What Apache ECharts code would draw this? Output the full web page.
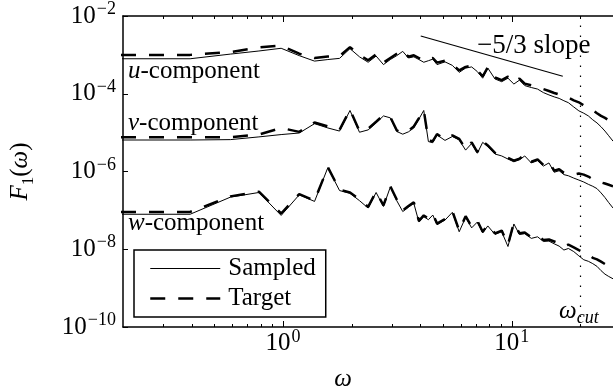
<!DOCTYPE html>
<html><head><meta charset="utf-8">
<script src="https://cdn.jsdelivr.net/npm/echarts@6/dist/echarts.min.js"></script>
<style>html,body{margin:0;padding:0;background:#fff}#c{width:613px;height:392px}</style>
</head><body><div id="c"></div><script>
// angular frequency samples (omega)
const omega = [0.196,0.393,0.589,0.785,0.982,1.178,1.374,1.571,1.767,1.963,2.160,2.356,2.553,2.749,2.945,3.142,3.338,3.534,3.731,3.927,4.123,4.320,4.516,4.712,
  5.105,5.498,5.890,6.283,6.676,7.069,7.461,7.854,
  8.443,9.032,9.621,10.21,10.80,11.39,
  12.17,12.96,13.74,14.53,15.32,16.10,16.89,17.67,
  18.65,19.63,20.62,21.60,22.58,23.56,24.54,25.53,26.51,27.69];
// log10 F1(omega) values
const uSampled = [-3.10,-3.10,-2.98,-2.90,-2.83,-3.02,-3.16,-3.12,-3.09,-2.84,-3.05,-3.19,-3.03,-3.25,-3.12,-3.02,-2.91,-3.08,-3.05,-3.12,-3.19,-3.15,-3.11,-3.25,
  -3.18,-3.27,-3.45,-3.34,-3.31,-3.43,-3.60,-3.34,
  -3.62,-3.69,-3.60,-3.75,-3.65,-3.79,
  -3.84,-3.88,-3.97,-4.03,-4.08,-4.12,-4.18,-4.23,
  -4.34,-4.44,-4.50,-4.57,-4.67,-4.75,-4.85,-4.96,-5.08,-5.22];
const uTarget = [-3.00,-3.00,-2.93,-2.81,-2.76,-2.97,-3.08,-3.04,-3.03,-2.80,-3.00,-3.14,-2.99,-3.20,-3.08,-2.97,-2.88,-3.05,-3.01,-3.08,-3.15,-3.11,-3.08,-3.20,
  -3.15,-3.24,-3.40,-3.31,-3.28,-3.40,-3.55,-3.32,
  -3.58,-3.65,-3.56,-3.70,-3.61,-3.74,
  -3.78,-3.82,-3.88,-3.93,-3.98,-4.02,-4.06,-4.10,
  -4.17,-4.22,-4.30,-4.36,-4.42,-4.50,-4.57,-4.62,-4.68,-4.74];
const vSampled = [-5.19,-5.19,-5.18,-5.11,-5.05,-5.01,-4.77,-4.88,-4.96,-4.43,-4.99,-4.93,-4.75,-4.57,-4.62,-4.97,-5.04,-4.98,-4.88,-4.65,-4.43,-5.23,-5.26,-5.06,
  -5.20,-5.10,-5.19,-5.45,-5.28,-5.53,-5.25,-5.36,
  -5.55,-5.60,-5.68,-5.75,-5.70,-5.60,
  -5.78,-5.72,-5.86,-5.78,-6.02,-5.98,-6.08,-6.11,
  -6.17,-6.22,-6.27,-6.33,-6.38,-6.44,-6.55,-6.67,-6.80,-6.94];
const vTarget = [-5.12,-5.12,-5.12,-5.05,-4.88,-4.98,-4.74,-4.84,-4.93,-4.41,-4.96,-4.90,-4.72,-4.55,-4.60,-4.94,-5.01,-4.95,-4.84,-4.63,-4.42,-5.20,-5.22,-5.04,
  -5.17,-5.07,-5.16,-5.42,-5.25,-5.50,-5.22,-5.33,
  -5.52,-5.57,-5.65,-5.72,-5.67,-5.57,
  -5.75,-5.69,-5.83,-5.75,-5.98,-5.94,-6.03,-6.05,
  -6.08,-6.05,-6.08,-6.13,-6.20,-6.22,-6.28,-6.31,-6.34,-6.38];
const wSampled = [-7.10,-7.10,-6.66,-6.54,-7.13,-6.60,-6.77,-5.90,-6.49,-6.56,-6.75,-6.94,-6.54,-6.90,-6.40,-6.75,-7.03,-6.92,-6.82,-7.30,-7.16,-7.24,-7.12,-7.37,
  -7.25,-7.05,-7.55,-7.18,-7.45,-7.30,-7.58,-7.40,
  -7.62,-7.55,-7.93,-7.35,-7.62,-7.60,
  -7.72,-7.68,-7.80,-7.79,-7.86,-7.92,-8.02,-7.98,
  -8.06,-8.17,-8.27,-8.31,-8.37,-8.44,-8.55,-8.64,-8.70,-8.76];
const wTarget = [-7.04,-7.04,-6.64,-6.52,-7.08,-6.58,-6.75,-5.89,-6.47,-6.54,-6.72,-6.91,-6.52,-6.87,-6.38,-6.72,-7.00,-6.89,-6.79,-7.27,-7.13,-7.21,-7.09,-7.34,
  -7.22,-7.02,-7.52,-7.15,-7.42,-7.27,-7.55,-7.37,
  -7.59,-7.52,-7.88,-7.32,-7.59,-7.57,
  -7.69,-7.65,-7.76,-7.75,-7.80,-7.85,-7.93,-7.88,
  -7.95,-8.02,-8.08,-8.13,-8.22,-8.26,-8.32,-8.38,-8.41,-8.44];
// -5/3 reference slope
const slopeOmega = [4.0, 16.7];
const slopeLog10F = [-2.515, -3.55];
const omegaCut = 20;
// axis ranges and ticks
const xMinOmega = 0.2, xMaxOmega = 30;
const xMajorTicks = [1, 10];
const xMinorTicks = [0.3,0.4,0.5,0.6,0.7,0.8,0.9,2,3,4,5,6,7,8,9,20];
const yTickExponents = [-10,-8,-6,-4,-2];

const FONT = 'Liberation Serif';
const L = Math.log10;
const toPts = (arr) => omega.map((w, i) => [L(w), arr[i]]);

function pow10(v) {
  const e = Math.round(v);
  return '{b|10}{s|' + (e < 0 ? '\u2212' : '') + Math.abs(e) + '}';
}
const labRich = {
  b: {fontFamily: FONT, fontSize: 25, color: '#000', verticalAlign: 'bottom', lineHeight: 25},
  s: {fontFamily: FONT, fontSize: 18, color: '#000', verticalAlign: 'bottom', lineHeight: 18, padding: [0, 0, 10, 1]}
};

const xBase = {type: 'value', min: L(xMinOmega), max: L(xMaxOmega), gridIndex: 0, splitLine: {show: false}, minorTick: {show: false}};
const xAxes = [
  Object.assign({}, xBase, {position: 'bottom',
    axisLine: {show: true, onZero: false, lineStyle: {color: '#000', width: 1.5}},
    axisTick: {show: true, inside: true, length: 6, customValues: xMajorTicks.map(L), lineStyle: {color: '#000', width: 1}},
    axisLabel: {show: true, customValues: xMajorTicks.map(L), formatter: pow10, rich: labRich, margin: 4},
    name: '\u03c9', nameLocation: 'middle', nameGap: 40,
    nameTextStyle: {fontFamily: FONT, fontSize: 25, fontStyle: 'italic', color: '#000', padding: [0, 58, 0, 0]}}),
  Object.assign({}, xBase, {position: 'bottom', axisLine: {show: false, onZero: false},
    axisTick: {show: true, inside: true, length: 3, customValues: xMinorTicks.map(L), lineStyle: {color: '#000', width: 1}},
    axisLabel: {show: false}}),
  Object.assign({}, xBase, {position: 'top',
    axisLine: {show: true, onZero: false, lineStyle: {color: '#000', width: 1.5}},
    axisTick: {show: true, inside: true, length: 6, customValues: xMajorTicks.map(L), lineStyle: {color: '#000', width: 1}},
    axisLabel: {show: false}}),
  Object.assign({}, xBase, {position: 'top', axisLine: {show: false, onZero: false},
    axisTick: {show: true, inside: true, length: 3, customValues: xMinorTicks.map(L), lineStyle: {color: '#000', width: 1}},
    axisLabel: {show: false}})
];

const yAxis = {type: 'value', min: -10, max: -2, position: 'left', splitLine: {show: false},
  axisLine: {show: true, onZero: false, lineStyle: {color: '#000', width: 1.5}},
  axisTick: {show: true, inside: true, length: 5, customValues: yTickExponents, lineStyle: {color: '#000', width: 1}},
  axisLabel: {show: true, customValues: yTickExponents, formatter: pow10, rich: labRich, margin: 7},
  name: '{i|F}{n|1}{r|(}{i|\u03c9}{r|)}', nameLocation: 'middle', nameGap: 86,
  nameTextStyle: {rich: {
    i: {fontFamily: FONT, fontSize: 25, fontStyle: 'italic', color: '#000', verticalAlign: 'bottom', lineHeight: 25, padding: [0, 0, 4, 0]},
    r: {fontFamily: FONT, fontSize: 25, color: '#000', verticalAlign: 'bottom', lineHeight: 25, padding: [0, 0, 4, 0]},
    n: {fontFamily: FONT, fontSize: 17, color: '#000', verticalAlign: 'bottom', lineHeight: 17}
  }}
};

const dash = [15, 13];
function targetSeries(arr) {
  return {type: 'line', name: 'Target', data: toPts(arr), symbol: 'none', z: 2, silent: true,
    lineStyle: {color: '#000', width: 2.5, type: dash}};
}
function sampledSeries(arr) {
  return {type: 'line', name: 'Sampled', data: toPts(arr), symbol: 'none', z: 3, silent: true,
    lineStyle: {color: '#000', width: 1}};
}

const txt = {fontFamily: FONT, fontSize: 25, color: '#000'};
const compRich = {i: Object.assign({}, txt, {fontStyle: 'italic'}), r: txt};
function compLabel(letter, x, y) {
  return {type: 'text', left: x, top: y, silent: true,
    style: {text: '{i|' + letter + '}{r|-component}', rich: compRich, font: '25px ' + FONT, fill: '#000'}};
}

const option = {
  animation: false,
  backgroundColor: '#fff',
  grid: {left: 123, top: 16, right: -8, bottom: 65, containLabel: false, outerBoundsMode: 'none'},
  xAxis: xAxes,
  yAxis: yAxis,
  legend: {
    data: [
      {name: 'Sampled', lineStyle: {width: 1, type: 'solid', color: '#000'}},
      {name: 'Target', lineStyle: {width: 2.5, type: dash, color: '#000'}}
    ],
    orient: 'vertical', left: 134, top: 250, itemWidth: 70, itemHeight: 14, itemGap: 5,
    padding: [6, 10, 6, 15], borderColor: '#000', borderWidth: 1.5, borderRadius: 0, backgroundColor: '#fff',
    itemStyle: {opacity: 0}, selectedMode: false,
    textStyle: {fontFamily: FONT, fontSize: 25, color: '#000', padding: [0, 0, 0, 3]}
  },
  series: [
    targetSeries(uTarget), targetSeries(vTarget), targetSeries(wTarget),
    sampledSeries(uSampled), sampledSeries(vSampled), sampledSeries(wSampled),
    {type: 'line', name: 'slope', data: slopeOmega.map((w, i) => [L(w), slopeLog10F[i]]), symbol: 'none', silent: true,
      lineStyle: {color: '#000', width: 1.2}, z: 3,
      markLine: {silent: true, symbol: ['none', 'none'], label: {show: false},
        lineStyle: {color: '#000', width: 1.2, type: [1.5, 8.5]},
        data: [{xAxis: L(omegaCut)}]}}
  ],
  graphic: [
    compLabel('u', 128, 59),
    compLabel('v', 128, 111),
    compLabel('w', 128, 211),
    {type: 'text', left: 477, top: 32, silent: true,
      style: {text: '\u22125/3 slope', font: '27px ' + FONT, fill: '#000'}},
    {type: 'text', left: 559, top: 299, silent: true,
      style: {text: '{w|\u03c9}{c|cut}', rich: {
        w: {fontFamily: FONT, fontSize: 25, fontStyle: 'italic', color: '#000', verticalAlign: 'bottom', lineHeight: 25, padding: [0, 0, 3, 0]},
        c: {fontFamily: FONT, fontSize: 18, fontStyle: 'italic', color: '#000', verticalAlign: 'bottom', lineHeight: 18}
      }}}
  ]
};
const chart = echarts.init(document.getElementById('c'), null, {renderer: 'canvas'});
chart.setOption(option);
</script></body></html>
